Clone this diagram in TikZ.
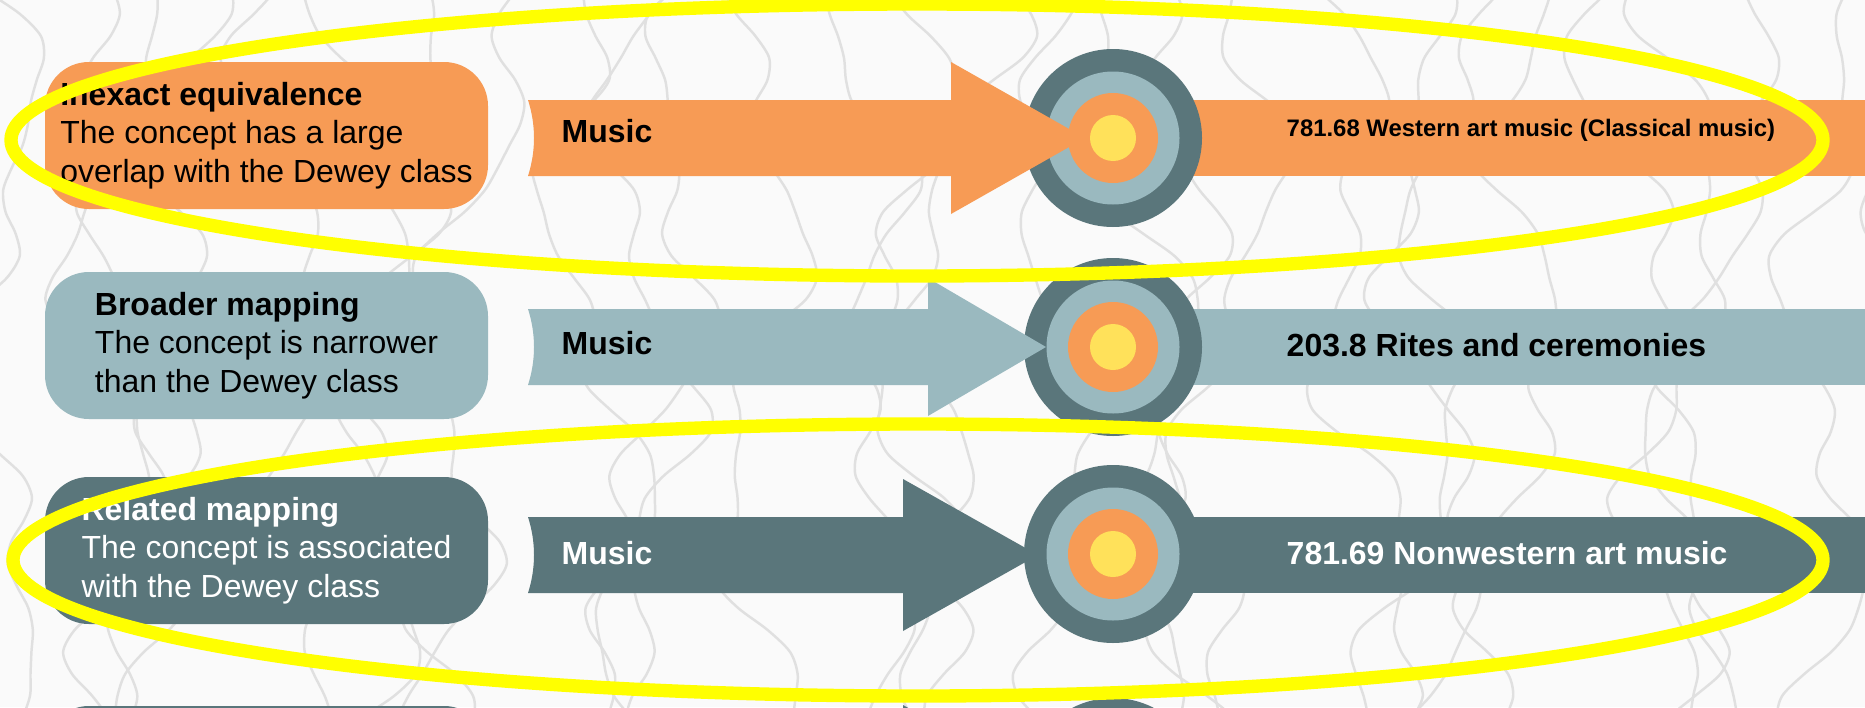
\documentclass[tikz,border=0pt]{standalone}
\usepackage{fontspec}
\setmainfont{Liberation Sans}
\usepackage{tikz}
\usetikzlibrary{arrows, arrows.meta, positioning}

\definecolor{paper}{HTML}{FAFAFA}
\definecolor{lineC}{HTML}{E0E0E0}
\definecolor{orng}{HTML}{F79B55}
\definecolor{pale}{HTML}{9AB9BF}
\definecolor{slate}{HTML}{5A767B}
\definecolor{gold}{HTML}{FFE15A}
\definecolor{hiliteC}{HTML}{FFFF00}

\tikzset{
  box/.style={rounded corners=12.5pt, minimum width=4.43cm, minimum height=1.47cm,
    inner sep=0pt, align=left, font=\fontsize{9.1}{10.95}\selectfont},
  ring/.style={circle, inner sep=0pt},
  lbl/.style={anchor=west, inner sep=0pt, font=\fontsize{9.1}{11}\selectfont\bfseries},
  bgline/.style={draw=lineC, line width=0.7pt},
  hilite/.style={draw=hiliteC, line width=3.8pt}
}

\begin{document}
\begin{tikzpicture}
\useasboundingbox (0,0) rectangle (18.65,-7.07);
\clip (0,0) rectangle (18.65,-7.07);
\fill[paper] (0,0) rectangle (18.65,-7.07);
\foreach \i in {0,...,27}{
  \draw[bgline] plot[smooth, samples=36, domain=-0.3:7.4, variable=\t]
    ({\i*0.7+0.12*\t*sin(\i*97)+0.35*sin(\t*75+\i*57)+0.2*sin(\t*170+\i*131)+0.08*sin(\t*310+\i*23)}, {-\t});
}

% inexact equivalence
\fill[orng] (11.13,-1.00) rectangle (18.65,-1.76);
\node[ring, minimum size=1.78cm, fill=slate] (t1a) at (11.13,-1.38){};
\node[ring, minimum size=1.33cm, fill=pale] (t1b) at (t1a){};
\node[ring, minimum size=0.90cm, fill=orng] (t1c) at (t1a){};
\node[ring, minimum size=0.46cm, fill=gold] (t1d) at (t1a){};
\fill[orng] (5.28,-1.00) -- (9.51,-1.00) -- (9.51,-0.62) -- (10.85,-1.38) -- (9.51,-2.14)
  -- (9.51,-1.76) -- (5.28,-1.76) .. controls (5.36,-1.51) and (5.36,-1.25) .. cycle;
\node[box, fill=orng] (b1) at (2.665,-1.355){\textbf{Inexact equivalence}\\The concept has a large\\overlap with the Dewey class};
\node[lbl] (m1) at (5.61,-1.31){Music};
\node[lbl, font=\fontsize{6.8}{8}\selectfont\bfseries] (d1) at (12.86,-1.30){781.68 Western art music (Classical music)};

% broader mapping
\fill[pale] (11.13,-3.09) rectangle (18.65,-3.85);
\node[ring, minimum size=1.78cm, fill=slate] (t2a) at (11.13,-3.47){};
\node[ring, minimum size=1.33cm, fill=pale] (t2b) at (t2a){};
\node[ring, minimum size=0.90cm, fill=orng] (t2c) at (t2a){};
\node[ring, minimum size=0.46cm, fill=gold] (t2d) at (t2a){};
\fill[pale] (5.28,-3.09) -- (9.28,-3.09) -- (9.28,-2.78) -- (10.46,-3.47) -- (9.28,-4.16)
  -- (9.28,-3.85) -- (5.28,-3.85) .. controls (5.36,-3.60) and (5.36,-3.34) .. cycle;
\node[box, fill=pale] (b2) at (2.665,-3.455){\textbf{Broader mapping}\\The concept is narrower\\than the Dewey class};
\node[lbl] (m2) at (5.61,-3.43){Music};
\node[lbl] (d2) at (12.86,-3.45){203.8 Rites and ceremonies};

% related mapping
\fill[slate] (11.13,-5.17) rectangle (18.65,-5.93);
\node[ring, minimum size=1.78cm, fill=slate] (t3a) at (11.13,-5.54){};
\node[ring, minimum size=1.33cm, fill=pale] (t3b) at (t3a){};
\node[ring, minimum size=0.90cm, fill=orng] (t3c) at (t3a){};
\node[ring, minimum size=0.46cm, fill=gold] (t3d) at (t3a){};
\fill[slate] (5.28,-5.17) -- (9.03,-5.17) -- (9.03,-4.79) -- (10.38,-5.55) -- (9.03,-6.31)
  -- (9.03,-5.93) -- (5.28,-5.93) .. controls (5.36,-5.68) and (5.36,-5.42) .. cycle;
\node[box, fill=slate, text=white] (b3) at (2.665,-5.505){\textbf{Related mapping}\\The concept is associated\\with the Dewey class};
\node[lbl, text=white] (m3) at (5.61,-5.53){Music};
\node[lbl, text=white] (d3) at (12.86,-5.53){781.69 Nonwestern art music};

% next row, cut off
\node[box, fill=slate] (b4) at (2.665,-7.795){};
\node[ring, minimum size=1.78cm, fill=slate] (t4a) at (11.13,-7.87){};
\fill[slate] (9.03,-7.05) -- (10.38,-7.81) -- (9.03,-8.57) -- cycle;

\draw[hilite] (9.17,-1.40) ellipse (9.06 and 1.36);
\draw[hilite] (9.18,-5.60) ellipse (9.05 and 1.36);
\end{tikzpicture}
\end{document}
